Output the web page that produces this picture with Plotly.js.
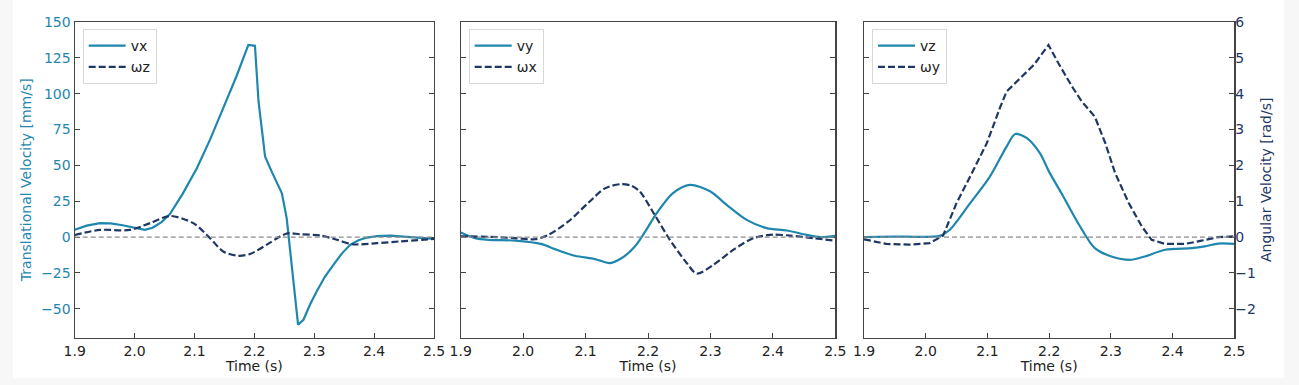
<!DOCTYPE html>
<html>
<head>
<meta charset="utf-8">
<script src="https://cdn.plot.ly/plotly-3.0.1.min.js"></script>
<style>html,body{margin:0;padding:0;background:#f7f7f7;} #chart{width:1299px;height:385px;}</style>
</head>
<body>
<div id="chart"></div>
<script>
// ---- Panel 1: vx (mm/s) and wz (rad/s)
const tVx = [1.9, 1.92, 1.942, 1.96, 1.98, 2.0, 2.017, 2.03, 2.045, 2.059, 2.08, 2.104, 2.126, 2.148, 2.17, 2.19, 2.2, 2.201, 2.207, 2.218, 2.229, 2.246, 2.254, 2.273, 2.282, 2.293, 2.304, 2.318, 2.332, 2.346, 2.36, 2.374, 2.388, 2.405, 2.427, 2.454, 2.48, 2.5];
const vx  = [5.1, 8.0, 9.7, 9.6, 8.3, 6.3, 5.1, 6.5, 10.5, 16, 30, 48, 68, 90, 112, 134, 133.4, 133.4, 94.4, 56, 45.7, 30.6, 13.2, -61, -57.6, -47, -37.9, -27.5, -19.3, -11.5, -5.4, -2.2, -0.3, 0.7, 1.1, 0.4, -0.6, -1.2];
const tWz = [1.9, 1.942, 1.992, 2.026, 2.059, 2.098, 2.126, 2.148, 2.173, 2.193, 2.221, 2.243, 2.257, 2.276, 2.31, 2.338, 2.363, 2.404, 2.443, 2.5];
const wz  = [0.06, 0.2, 0.2, 0.39, 0.59, 0.39, -0.03, -0.4, -0.52, -0.47, -0.21, 0.02, 0.11, 0.08, 0.045, -0.075, -0.2, -0.17, -0.12, -0.05];

// ---- Panel 2: vy (mm/s) and wx (rad/s)
const tVy = [1.9, 1.923, 1.944, 1.987, 2.03, 2.051, 2.083, 2.115, 2.139, 2.158, 2.179, 2.195, 2.214, 2.24, 2.267, 2.3, 2.326, 2.358, 2.39, 2.422, 2.454, 2.476, 2.5];
const vy  = [3.2, -0.7, -1.9, -2.4, -4.9, -8.4, -13, -15.3, -18.1, -14.6, -6.5, 3.5, 16.7, 30.6, 36.4, 31.8, 22.5, 12, 6.3, 4.6, 1.6, 0, 0.9];
const tWx = [1.9, 1.944, 1.987, 2.019, 2.04, 2.072, 2.104, 2.131, 2.158, 2.174, 2.187, 2.209, 2.235, 2.262, 2.278, 2.305, 2.337, 2.369, 2.401, 2.428, 2.465, 2.5];
const wx  = [0.02, 0.01, -0.03, -0.06, 0.06, 0.43, 0.95, 1.36, 1.48, 1.43, 1.27, 0.67, -0.075, -0.72, -1.02, -0.77, -0.35, -0.03, 0.07, 0.04, -0.03, -0.1];

// ---- Panel 3: vz (mm/s) and wy (rad/s)
const tVz = [1.9, 1.947, 2.023, 2.039, 2.072, 2.104, 2.131, 2.145, 2.164, 2.185, 2.2, 2.22, 2.247, 2.274, 2.301, 2.333, 2.355, 2.388, 2.431, 2.452, 2.474, 2.5];
const vz  = [0, 0.4, 0.9, 5.1, 23.7, 42.2, 63.1, 71.9, 69, 58.5, 45.5, 30.6, 9.7, -7.7, -13.5, -15.8, -13.5, -8.8, -7.7, -6.5, -4.5, -4.7];
const tWy = [1.9, 1.936, 1.973, 2.006, 2.028, 2.05, 2.072, 2.099, 2.121, 2.131, 2.153, 2.175, 2.199, 2.215, 2.237, 2.253, 2.274, 2.291, 2.307, 2.329, 2.35, 2.366, 2.388, 2.42, 2.447, 2.474, 2.5];
const wy  = [-0.06, -0.19, -0.21, -0.17, 0.04, 0.95, 1.69, 2.62, 3.64, 4.06, 4.43, 4.8, 5.36, 4.85, 4.2, 3.78, 3.36, 2.62, 1.78, 0.95, 0.3, -0.075, -0.19, -0.19, -0.1, 0, 0.02];

const transNames = ['vx', 'vy', 'vz'];
const angNames = ['\u03c9z', '\u03c9x', '\u03c9y'];
const xTickVals = [1.9, 2.0, 2.1, 2.2, 2.3, 2.4, 2.5];
const transTicks = [-50, -25, 0, 25, 50, 75, 100, 125, 150];
const angTicks = [-2, -1, 0, 1, 2, 3, 4, 5, 6];

const TEAL = '#1f87ae';
const NAVY = '#1e3764';
const FONT = 'DejaVu Sans, sans-serif';

const W = 1299, H = 385;
const xdom = [[74.7 / W, 434 / W], [460.7 / W, 835.3 / W], [864 / W, 1234.3 / W]];
const ydom = [1 - 337.5 / H, 1 - 22 / H];

const tSets = [[tVx, vx, tWz, wz], [tVy, vy, tWx, wx], [tVz, vz, tWy, wy]];
// line shapes: [translational, angular] per panel
const shapes = [['linear', 'spline'], ['spline', 'spline'], ['spline', 'linear']];

const data = [];
const layout = {
  width: W, height: H,
  margin: {l: 0, r: 0, t: 0, b: 0},
  paper_bgcolor: '#f7f7f7',
  plot_bgcolor: 'rgba(0,0,0,0)',
  font: {family: FONT, size: 14, color: '#222'},
  showlegend: true,
  shapes: [{type: 'rect', xref: 'paper', yref: 'paper', x0: 13 / W, x1: 1284 / W, y0: 1 - 378 / H, y1: 1,
            fillcolor: '#ffffff', line: {width: 0}, layer: 'below'}]
};

for (let i = 0; i < 3; i++) {
  const xa = 'x' + (i === 0 ? '' : i + 1);
  const ya = 'y' + (i === 0 ? '' : i + 1);
  const ya2 = 'y' + (i + 4);
  const leg = 'legend' + (i === 0 ? '' : i + 1);
  const [tA, vA, tB, wB] = tSets[i];
  data.push({x: tA, y: vA, xaxis: xa, yaxis: ya, type: 'scatter', mode: 'lines', name: transNames[i],
             line: {color: TEAL, width: 2.2, shape: shapes[i][0], smoothing: 0.8}, legend: leg});
  data.push({x: tB, y: wB, xaxis: xa, yaxis: ya2, type: 'scatter', mode: 'lines', name: angNames[i],
             line: {color: NAVY, width: 2.2, dash: '7px,3px', shape: shapes[i][1], smoothing: 0.8}, legend: leg});

  layout['xaxis' + (i === 0 ? '' : i + 1)] = {
    domain: xdom[i], anchor: ya, range: [1.9, 2.5],
    tickvals: xTickVals, ticktext: xTickVals.map(v => v.toFixed(1)),
    ticks: 'inside', ticklen: 5, tickcolor: '#444', tickwidth: 1,
    showline: true, linecolor: '#444', linewidth: 1.2, mirror: true,
    showgrid: false, zeroline: false,
    tickfont: {family: FONT, size: 14, color: '#222'},
    title: {text: 'Time (s)', font: {family: FONT, size: 14, color: '#222'}, standoff: 2},
    automargin: false
  };
  layout['yaxis' + (i === 0 ? '' : i + 1)] = {
    domain: ydom, anchor: xa, range: [-70, 150],
    tickvals: transTicks, ticks: 'inside', ticklen: 5, tickcolor: '#444',
    showticklabels: i === 0,
    ticktext: transTicks.map(v => v < 0 ? '\u2212' + Math.abs(v) : String(v)),
    showline: true, linecolor: '#444', linewidth: 1.2, mirror: 'ticks',
    showgrid: false, zeroline: false,
    tickfont: {family: FONT, size: 14, color: TEAL},
    title: i === 0 ? {text: 'Translational Velocity [mm/s]', font: {family: FONT, size: 14, color: TEAL}, standoff: 6} : {text: ''},
    automargin: false
  };
  layout['yaxis' + (i + 4)] = {
    overlaying: ya, anchor: xa, side: 'right', range: [-2.8, 6],
    tickvals: angTicks, ticktext: angTicks.map(v => v < 0 ? '\u2212' + Math.abs(v) : String(v)),
    ticks: i === 2 ? 'inside' : '', ticklen: 5, tickcolor: '#444',
    showticklabels: i === 2, showline: false,
    showgrid: false, zeroline: false,
    tickfont: {family: FONT, size: 14, color: NAVY},
    title: i === 2 ? {text: 'Angular Velocity [rad/s]', font: {family: FONT, size: 14, color: NAVY}, standoff: 6} : {text: ''},
    automargin: false
  };
  layout[leg] = {
    x: xdom[i][0] + 8 / W, y: 1 - 29 / H, xanchor: 'left', yanchor: 'top',
    bgcolor: 'rgba(255,255,255,0.9)', bordercolor: '#d8d8d8', borderwidth: 1,
    font: {family: FONT, size: 14, color: '#222'},
    itemwidth: 37, tracegroupgap: 0
  };
  layout.shapes.push({type: 'line', xref: xa + ' domain', yref: ya, x0: 0, x1: 1, y0: 0, y1: 0,
                      line: {color: '#8c8c8c', width: 1.3, dash: '5px,3px'}, layer: 'above'});
}

Plotly.newPlot('chart', data, layout, {displayModeBar: false, staticPlot: true});
</script>
</body>
</html>
